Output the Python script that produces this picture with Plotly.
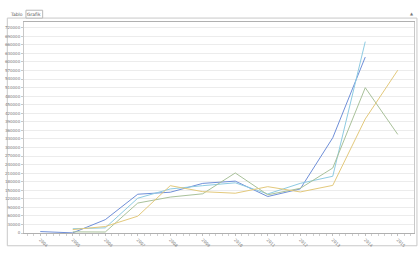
import plotly.graph_objects as go

years = [2004, 2005, 2006, 2007, 2008, 2009, 2010, 2011, 2012, 2013, 2014, 2015]

# series values (None = no data)
blue = [5000, 500, 46700, 136000, 143000, 174000, 182000, 128000, 154500, 334000, 617000, None]
light_blue = [None, 15000, 18000, 122000, 154500, 166000, 176000, 137000, 174000, 199000, 671000, None]
green = [None, 4000, 3400, 105000, 126000, 137500, 210600, 134000, 156700, 228000, 509600, 345700]
yellow = [None, 12000, 22700, 59000, 166000, 145000, 139500, 162500, 144000, 167000, 400000, 571000]

series = [
    ("Seri 1", blue, "#6f8fd8"),
    ("Seri 2", light_blue, "#8ecbe2"),
    ("Seri 3", green, "#a9c19a"),
    ("Seri 4", yellow, "#e3c97c"),
]

y_ticks = list(range(0, 720001, 30000))

fig = go.Figure()
for name, vals, col in series:
    fig.add_trace(go.Scatter(x=years, y=vals, mode="lines", name=name,
                             line=dict(color=col, width=1), connectgaps=False))

W, H = 420, 253
L, R, T, B = 18, 415, 22, 237


def px(x):
    return (x - L) / (R - L)


def py(y):
    return (B - y) / (B - T)


shapes = [
    # outer panel border
    dict(type="rect", xref="paper", yref="paper", x0=px(1), x1=px(418), y0=py(250), y1=py(18),
         line=dict(color="#c8c8c8", width=1), layer="below"),
    # Grafik tab
    dict(type="rect", xref="paper", yref="paper", x0=px(20), x1=px(37), y0=py(18), y1=py(10),
         line=dict(color="#b8b8b8", width=1), fillcolor="white"),
]
annotations = [
    dict(text="Tablo", xref="paper", yref="paper", x=px(10), y=py(14), showarrow=False,
         font=dict(size=4.5, color="#555"), xanchor="center", yanchor="middle"),
    dict(text="Grafik", xref="paper", yref="paper", x=px(28.5), y=py(14), showarrow=False,
         font=dict(size=4.5, color="#555"), xanchor="center", yanchor="middle"),
    dict(text="▲", xref="paper", yref="paper", x=px(413), y=py(13), showarrow=False,
         font=dict(size=4, color="#777"), xanchor="center", yanchor="middle"),
]

fig.update_layout(
    width=W, height=H,
    margin=dict(l=L, r=W - R, t=T, b=H - B, pad=0),
    paper_bgcolor="white", plot_bgcolor="white",
    showlegend=False,
    font=dict(family="DejaVu Sans", size=4, color="#666"),
    shapes=shapes, annotations=annotations,
    xaxis=dict(range=[2003.5, 2015.5], tickvals=years, ticktext=[str(y) for y in years],
               tickangle=45, showgrid=False, showline=True, linecolor="#b0b0b0", linewidth=1,
               mirror=True, ticks="outside", ticklen=2, tickcolor="#c0c0c0",
               minor=dict(dtick=0.2, ticks="outside", ticklen=1.5, tickcolor="#d0d0d0"),
               tickfont=dict(size=4, color="#777"), zeroline=False, fixedrange=True),
    yaxis=dict(range=[0, 740000], tickvals=y_ticks, ticktext=[str(v) for v in y_ticks],
               showgrid=True, gridcolor="#ececec", gridwidth=1, showline=True,
               linecolor="#c8c8c8", linewidth=1, mirror=True, ticks="outside", ticklen=2,
               tickcolor="#c8c8c8", tickfont=dict(size=4, color="#777"), zeroline=False,
               fixedrange=True),
)

fig.write_html("out.html")
